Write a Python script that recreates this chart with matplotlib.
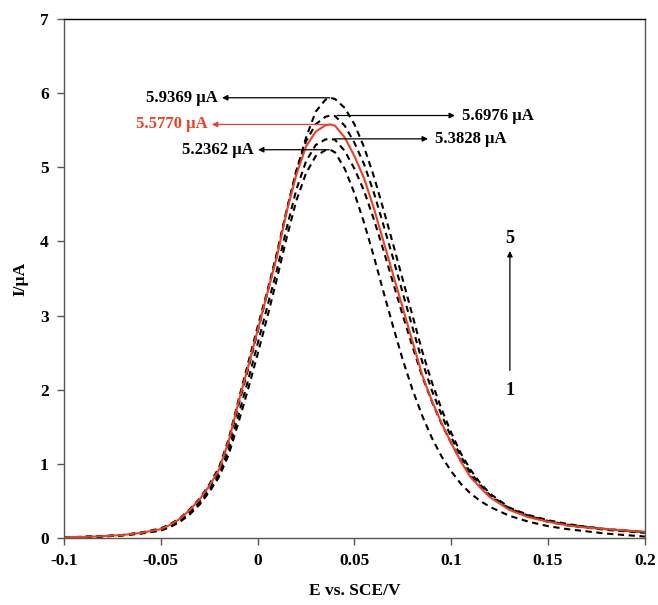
import matplotlib.pyplot as plt

# potential axis (V)
E = [-0.1, -0.09, -0.08, -0.07, -0.06, -0.05, -0.045, -0.04, -0.035, -0.03,
     -0.025, -0.02, -0.015, -0.01, -0.005, 0.0, 0.005, 0.01, 0.015, 0.02,
     0.025, 0.03, 0.035, 0.0375, 0.04, 0.045, 0.05, 0.055, 0.06, 0.065,
     0.07, 0.075, 0.08, 0.085, 0.09, 0.095, 0.1, 0.105, 0.11, 0.115,
     0.12, 0.13, 0.14, 0.15, 0.16, 0.17, 0.18, 0.19, 0.2]

# currents (uA)
I1 = [0.01, 0.015, 0.02, 0.035, 0.06, 0.1, 0.15, 0.22, 0.32, 0.45,
      0.62, 0.82, 1.12, 1.55, 2.0, 2.48, 2.98, 3.5, 4.05, 4.55,
      4.92, 5.15, 5.23, 5.2362, 5.2, 4.98, 4.65, 4.25, 3.8, 3.32,
      2.85, 2.4, 2.0, 1.65, 1.35, 1.1, 0.9, 0.73, 0.6, 0.5,
      0.42, 0.3, 0.22, 0.16, 0.12, 0.09, 0.06, 0.04, 0.02]
I2 = [0.01, 0.015, 0.022, 0.037, 0.065, 0.11, 0.16, 0.23, 0.34, 0.47,
      0.64, 0.85, 1.18, 1.65, 2.12, 2.62, 3.12, 3.62, 4.18, 4.7,
      5.08, 5.3, 5.375, 5.3828, 5.37, 5.22, 4.98, 4.68, 4.3, 3.88,
      3.44, 3.0, 2.58, 2.18, 1.84, 1.54, 1.28, 1.04, 0.84, 0.69,
      0.56, 0.39, 0.29, 0.22, 0.17, 0.14, 0.11, 0.09, 0.07]
I3 = [0.01, 0.015, 0.025, 0.04, 0.07, 0.12, 0.18, 0.26, 0.38, 0.52,
      0.70, 0.92, 1.3, 1.82, 2.3, 2.8, 3.3, 3.8, 4.4, 4.9,
      5.28, 5.48, 5.565, 5.577, 5.56, 5.4, 5.15, 4.85, 4.45, 4.0,
      3.55, 3.1, 2.65, 2.2, 1.85, 1.55, 1.28, 1.03, 0.82, 0.68,
      0.55, 0.38, 0.28, 0.22, 0.17, 0.14, 0.12, 0.1, 0.085]
I4 = [0.01, 0.015, 0.025, 0.04, 0.07, 0.12, 0.17, 0.25, 0.36, 0.5,
      0.68, 0.9, 1.27, 1.78, 2.27, 2.78, 3.3, 3.82, 4.42, 4.95,
      5.35, 5.58, 5.68, 5.6976, 5.69, 5.56, 5.33, 5.04, 4.66, 4.22,
      3.77, 3.3, 2.84, 2.38, 1.99, 1.66, 1.36, 1.1, 0.88, 0.72,
      0.58, 0.4, 0.3, 0.23, 0.18, 0.15, 0.12, 0.1, 0.08]
I5 = [0.01, 0.015, 0.025, 0.04, 0.075, 0.13, 0.19, 0.27, 0.39, 0.53,
      0.72, 0.95, 1.33, 1.85, 2.35, 2.85, 3.33, 3.85, 4.42, 4.95,
      5.4, 5.75, 5.91, 5.9369, 5.92, 5.8, 5.58, 5.27, 4.88, 4.43,
      3.96, 3.48, 3.0, 2.52, 2.1, 1.74, 1.42, 1.14, 0.92, 0.74,
      0.6, 0.41, 0.31, 0.24, 0.19, 0.15, 0.12, 0.1, 0.08]

# peak labels: text, peak x, arrow end x
peak_labels = ["5.9369 µA", "5.6976 µA", "5.5770 µA", "5.3828 µA", "5.2362 µA"]
peak_vals = [5.9369, 5.6976, 5.5770, 5.3828, 5.2362]
peak_x = [0.0373, 0.041, 0.0379, 0.0399, 0.037]
label_x = [-0.0184, 0.1019, -0.0236, 0.088, 0.0002]

RED = '#ee4023'
plt.rcParams['font.family'] = ['Liberation Serif', 'DejaVu Serif']
plt.rcParams['font.weight'] = 'bold'

fig = plt.figure(figsize=(6.58, 6.05), dpi=100)
ax = fig.add_axes([0.0973, 0.1107, 0.8827, 0.858])

for y in [I1, I2, I4, I5]:
    ax.plot(E, y, color='black', lw=1.5, ls=(0, (3, 2.2)))
ax.plot(E, I3, color=RED, lw=1.5)

for lab, v, px, lx in zip(peak_labels, peak_vals, peak_x, label_x):
    c = RED if lab.startswith('5.5770') else 'black'
    ax.annotate('', xy=(lx, v), xytext=(px, v),
                arrowprops=dict(arrowstyle='-|>', color=c, lw=0.9,
                                mutation_scale=8, shrinkA=0, shrinkB=0))
    if lx < px:
        ax.text(lx - 0.002, v, lab, ha='right', va='center', color=c,
                fontsize=12, fontweight='bold')
    else:
        ax.text(lx + 0.0035, v, lab, ha='left', va='center', color=c,
                fontsize=12, fontweight='bold')

# scan order arrow
ax.annotate('', xy=(0.1303, 3.87), xytext=(0.1303, 2.26),
            arrowprops=dict(arrowstyle='-|>', color='black', lw=0.9,
                            mutation_scale=8, shrinkA=0, shrinkB=0))
ax.text(0.1303, 4.04, '5', ha='center', va='center', fontsize=13, fontweight='bold')
ax.text(0.1303, 1.99, '1', ha='center', va='center', fontsize=13, fontweight='bold')

ax.set_xlim(-0.1, 0.2)
ax.set_ylim(0, 7)
ax.set_xticks([-0.1, -0.05, 0, 0.05, 0.1, 0.15, 0.2])
ax.set_xticklabels(['-0.1', '-0.05', '0', '0.05', '0.1', '0.15', '0.2'])
ax.set_yticks(range(8))
ax.tick_params(direction='out', length=5, width=1, color='#555555',
               labelsize=12.5, pad=6)
for lab in ax.get_xticklabels() + ax.get_yticklabels():
    lab.set_fontweight('bold')
for s in ax.spines.values():
    s.set_color('#555555')
    s.set_linewidth(1)
ax.spines['top'].set_color('black')

ax.set_xlabel('E vs. SCE/V', fontsize=12.5, fontweight='bold', labelpad=10)
ax.set_ylabel('I/µA', fontsize=12.5, fontweight='bold', labelpad=8)

fig.savefig('out.png', dpi=100)
